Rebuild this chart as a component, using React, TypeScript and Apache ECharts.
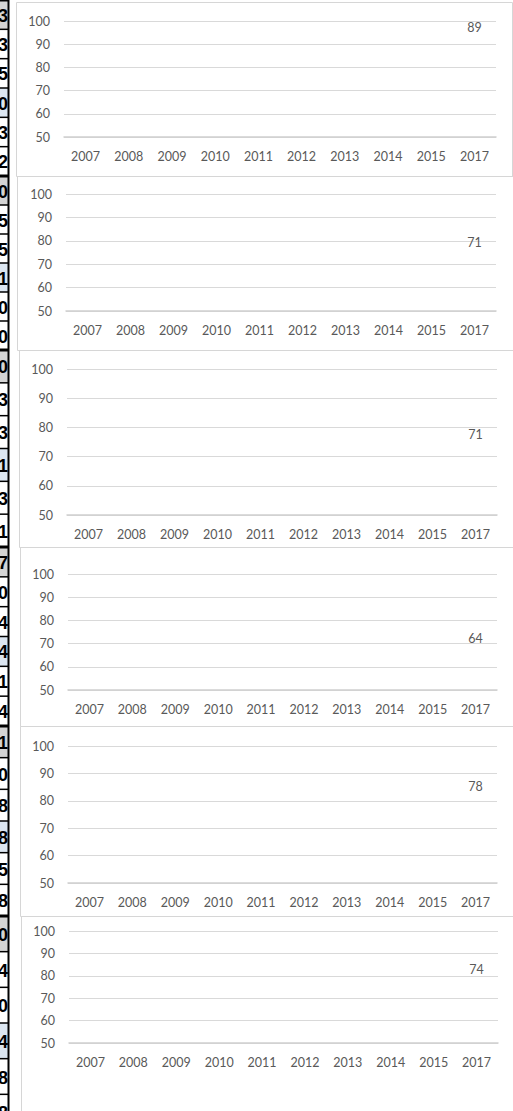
import React, { useEffect, useRef } from "react";
import * as echarts from "echarts";

// ---- data ----
const years = ["2007", "2008", "2009", "2010", "2011", "2012", "2013", "2014", "2015", "2017"];
const yMin = 50;
const yMax = 100;
const yStep = 10;

const panel1Values = [null, null, null, null, null, null, null, null, null, 89];
const panel2Values = [null, null, null, null, null, null, null, null, null, 71];
const panel3Values = [null, null, null, null, null, null, null, null, null, 71];
const panel4Values = [null, null, null, null, null, null, null, null, null, 64];
const panel5Values = [null, null, null, null, null, null, null, null, null, 78];
const panel6Values = [null, null, null, null, null, null, null, null, null, 74];

// fragments of the spreadsheet cells visible at the left edge
const stripDigits1 = ["3", "3", "5", "0", "3", "2"];
const stripDigits2 = ["0", "5", "5", "1", "0", "0"];
const stripDigits3 = ["0", "3", "3", "1", "3", "1"];
const stripDigits4 = ["7", "0", "4", "4", "1", "4"];
const stripDigits5 = ["1", "0", "8", "8", "5", "8"];
const stripDigits6 = ["0", "4", "0", "4", "8", "8"];

const allValues = [panel1Values, panel2Values, panel3Values, panel4Values, panel5Values, panel6Values];
const allDigits = [stripDigits1, stripDigits2, stripDigits3, stripDigits4, stripDigits5, stripDigits6];

// ---- layout ----
const W = 513;
const H = 1111;
const boxes = [
  { left: 16, top: 2, bottom: 176, right: 512 },
  { left: 17, top: 176, bottom: 350, right: 530 },
  { left: 19, top: 350, bottom: 547, right: 530 },
  { left: 20, top: 547, bottom: 726, right: 530 },
  { left: 20, top: 726, bottom: 916, right: 530 },
  { left: 21, top: 916, bottom: 1130, right: 530 },
];
const plots = [
  { left: 64, right: 496, top: 21, bottom: 137 },
  { left: 66, right: 496, top: 194, bottom: 311 },
  { left: 67, right: 497, top: 369, bottom: 515 },
  { left: 68, right: 497, top: 574, bottom: 690 },
  { left: 68, right: 497, top: 746, bottom: 883 },
  { left: 69, right: 498, top: 931, bottom: 1043 },
];

const FONT = "Lato, 'Open Sans', sans-serif";
const TEXT = "#595959";
const GRID = "#d9d9d9";

function buildOption() {
  const grid: any[] = [];
  const xAxis: any[] = [];
  const yAxis: any[] = [];
  const series: any[] = [];
  plots.forEach((p, i) => {
    grid.push({ left: p.left, width: p.right - p.left, top: p.top, height: p.bottom - p.top, containLabel: false });
    xAxis.push({
      type: "category",
      gridIndex: i,
      data: years,
      axisLine: { show: true, lineStyle: { color: "#cfcfcf", width: 1.5 } },
      axisTick: { show: false },
      axisLabel: { color: TEXT, fontFamily: FONT, fontSize: 12.5, margin: 13, interval: 0 },
      splitLine: { show: false },
    });
    yAxis.push({
      type: "value",
      gridIndex: i,
      min: yMin,
      max: yMax,
      interval: yStep,
      axisLine: { show: false },
      axisTick: { show: false },
      axisLabel: { color: TEXT, fontFamily: FONT, fontSize: 12.5, margin: 14 },
      splitLine: { show: true, lineStyle: { color: GRID, width: 1 } },
    });
    series.push({
      type: "line",
      xAxisIndex: i,
      yAxisIndex: i,
      data: allValues[i],
      symbol: "circle",
      symbolSize: 2,
      itemStyle: { color: "rgba(0,0,0,0)", borderWidth: 0 },
      lineStyle: { width: 0 },
      label: {
        show: true,
        position: "top",
        distance: 12,
        color: TEXT,
        fontFamily: FONT,
        fontSize: 12.5,
      },
      emphasis: { disabled: true },
      silent: true,
    });
  });

  const graphics: any[] = [];
  boxes.forEach((b) => {
    graphics.push({
      type: "rect",
      silent: true,
      z: -10,
      shape: { x: b.left + 0.5, y: b.top + 0.5, width: b.right - b.left, height: b.bottom - b.top },
      style: { fill: "none", stroke: "#d6d6d6", lineWidth: 1 },
    });
  });
  boxes.forEach((b, i) => {
    const top = i === 0 ? 0 : b.top;
    const rowH = (b.bottom - top) / 6;
    for (let r = 0; r < 6; r++) {
      const y0 = top + r * rowH;
      const fill = r === 0 ? "#d4d4d4" : r === 3 ? "#dce6f1" : "#ffffff";
      graphics.push({
        type: "rect",
        silent: true,
        shape: { x: 0, y: y0, width: 8, height: rowH },
        style: { fill },
      });
      graphics.push({
        type: "text",
        silent: true,
        x: 8,
        y: y0 + rowH / 2 + 1,
        style: {
          text: allDigits[i][r],
          align: "right",
          verticalAlign: "middle",
          fill: "#000000",
          font: "bold 18px 'Liberation Sans', Arial, sans-serif",
        },
      });
      graphics.push({
        type: "line",
        silent: true,
        shape: { x1: 0, y1: y0, x2: 9, y2: y0 },
        style: { stroke: "#000000", lineWidth: r === 0 ? 3 : 1.5 },
      });
    }
  });
  graphics.push({
    type: "line",
    silent: true,
    shape: { x1: 8.5, y1: 0, x2: 8.5, y2: H },
    style: { stroke: "#000000", lineWidth: 2 },
  });

  return {
    animation: false,
    backgroundColor: "#ffffff",
    grid,
    xAxis,
    yAxis,
    series,
    graphic: graphics,
  };
}

export default function App() {
  const ref = useRef<HTMLDivElement>(null);
  useEffect(() => {
    if (!ref.current) return;
    const chart = echarts.init(ref.current, null, { renderer: "svg" });
    chart.setOption(buildOption());
    return () => chart.dispose();
  }, []);
  return <div ref={ref} style={{ position: "absolute", left: 0, top: 0, width: W, height: H }} />;
}
